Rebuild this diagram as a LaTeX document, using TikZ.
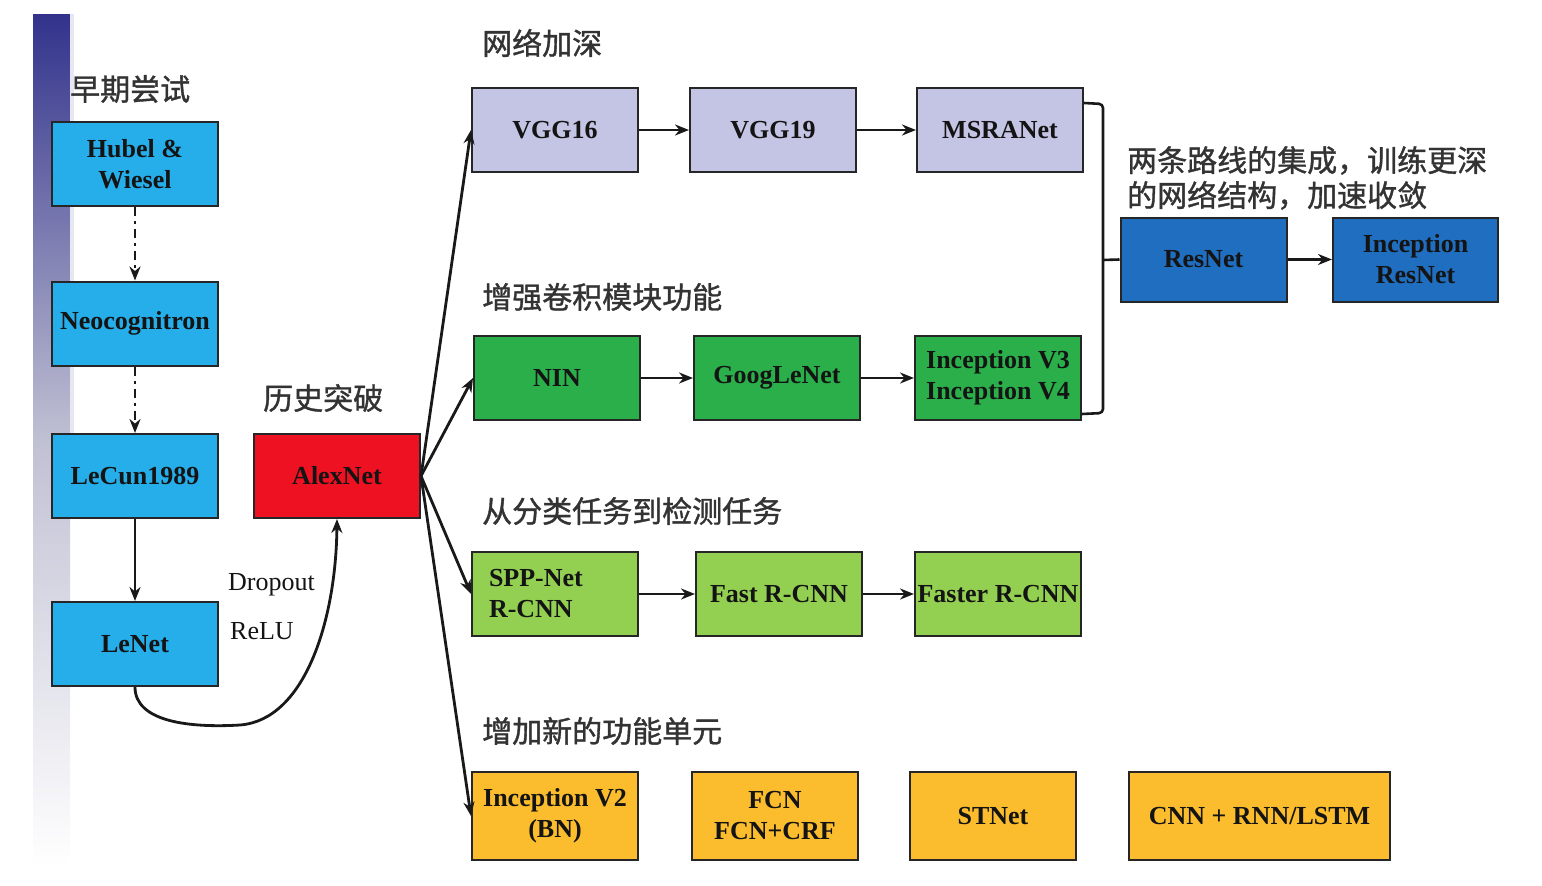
\documentclass[tikz,border=0pt]{standalone}
\usepackage{fontspec}
\setmainfont{Liberation Serif}
\newfontfamily\cjk[FakeBold=1.2]{Noto Sans CJK SC}
\usetikzlibrary{arrows.meta,calc}
\definecolor{cyanbox}{HTML}{25AEEA}
\definecolor{redbox}{HTML}{EE1122}
\definecolor{lavbox}{HTML}{C4C4E4}
\definecolor{greenbox}{HTML}{2BAF4A}
\definecolor{lgreenbox}{HTML}{93D052}
\definecolor{orangebox}{HTML}{FBBD2D}
\definecolor{bluebox}{HTML}{1F6EC0}
\definecolor{navy}{HTML}{32328C}
\definecolor{labelgray}{HTML}{333333}
\definecolor{textdark}{HTML}{141414}
\tikzset{
  x=1pt, y=-1pt,
  box/.style={draw=black!85, line width=2pt, minimum width=166pt, minimum height=84pt,
    inner sep=2pt, align=center, text=textdark,
    font=\fontsize{26}{31}\selectfont\bfseries},
  sect/.style={anchor=west, text=labelgray, inner sep=0pt,
    font=\cjk\fontsize{30}{35}\selectfont},
  arr/.style={line width=2.8pt, draw=black!90, -{Stealth[length=14pt,width=11pt]}},
  dashdot/.style={line width=2.8pt, draw=black!90, dash pattern=on 9pt off 5pt on 3pt off 5pt,
    -{Stealth[length=14pt,width=11pt]}},
  plainline/.style={line width=2.6pt, draw=black!90}
}
\begin{document}
\begin{tikzpicture}
\useasboundingbox (0,0) rectangle (1542,886);
% left decorative bar
\shade[top color=navy, bottom color=white, middle color=navy!25!white!85!gray] (33,14) rectangle (70,866);
\fill[navy!12] (70,14) rectangle (74,500);

% section labels
\node[sect] (l1) at (70,89) {早期尝试};
\node[sect] (l2) at (482,43) {网络加深};
\node[sect] (l3) at (482,297) {增强卷积模块功能};
\node[sect] (l4) at (263,398) {历史突破};
\node[sect] (l5) at (482,511) {从分类任务到检测任务};
\node[sect] (l6) at (482,731) {增加新的功能单元};
\node[sect, align=left] (l7) at (1127,178) {两条路线的集成，训练更深\\的网络结构，加速收敛};

% early column
\node[box, fill=cyanbox] (hubel) at (135,164) {Hubel \&\\Wiesel};
\node[box, fill=cyanbox] (neo) at (135,323.5) {Neocognitron};
\node[box, fill=cyanbox] (lecun) at (135,476) {LeCun1989};
\node[box, fill=cyanbox] (lenet) at (135,644) {LeNet};
\node[box, fill=redbox] (alex) at (337,476) {AlexNet};

% row 1
\node[box, fill=lavbox] (vgg16) at (555,130) {VGG16};
\node[box, fill=lavbox] (vgg19) at (773,130) {VGG19};
\node[box, fill=lavbox] (msra) at (1000,130) {MSRANet};
% row 2
\node[box, fill=greenbox] (nin) at (557,378) {NIN};
\node[box, fill=greenbox] (goog) at (777,378) {GoogLeNet};
\node[box, fill=greenbox] (incv3) at (998,378) {Inception V3\\Inception V4};
% row 3
\node[box, fill=lgreenbox, text width=132pt, align=left] (spp) at (555,594) {SPP-Net\\R-CNN};
\node[box, fill=lgreenbox] (fast) at (779,594) {Fast R-CNN};
\node[box, fill=lgreenbox] (faster) at (998,594) {Faster R-CNN};
% row 4
\node[box, fill=orangebox, minimum height=88pt] (incv2) at (555,816) {Inception V2\\(BN)};
\node[box, fill=orangebox, minimum height=88pt] (fcn) at (775,816) {FCN\\FCN+CRF};
\node[box, fill=orangebox, minimum height=88pt] (stnet) at (993,816) {STNet};
\node[box, fill=orangebox, minimum height=88pt, minimum width=261pt] (cnnrnn) at (1259.5,816) {CNN + RNN/LSTM};
% resnet
\node[box, fill=bluebox] (resnet) at (1203.5,259.5) {ResNet};
\node[box, fill=bluebox, minimum width=165pt] (incres) at (1415.5,259.5) {Inception\\ResNet};

% labels on curve
\node[anchor=west, inner sep=0pt, text=textdark, font=\fontsize{26}{30}\selectfont] (drop) at (228,585) {Dropout};
\node[anchor=west, inner sep=0pt, text=textdark, font=\fontsize{26}{30}\selectfont] (relu) at (230,631) {ReLU};

% early connectors
\draw[dashdot] (hubel) -- (neo);
\draw[dashdot] (neo) -- (lecun);
\draw[arr] (lecun) -- (lenet);
\draw[arr] (lenet.south) .. controls (135,722) and (190,728) .. (240,725)
  .. controls (305,720) and (336,620) .. (alex.south);

% alexnet fan
\draw[arr] (alex.east) -- (vgg16.west);
\draw[arr] (alex.east) -- (nin.west);
\draw[arr] (alex.east) -- (spp.west);
\draw[arr] (alex.east) -- (incv2.west);

% rows
\draw[arr] (vgg16) -- (vgg19);
\draw[arr] (vgg19) -- (msra);
\draw[arr] (nin) -- (goog);
\draw[arr] (goog) -- (incv3);
\draw[arr] (spp) -- (fast);
\draw[arr] (fast) -- (faster);
\draw[arr] (resnet) -- (incres);

% bracket
\coordinate (bt) at (1103,104);
\coordinate (bb) at (1103,413);
\draw[plainline, rounded corners=4pt] ($(msra.north east)+(0,16)$) -- (bt) -- (bb) -- ($(incv3.south east)+(0,-7)$);
\draw[plainline] (1103,260) -- (resnet.west);
\end{tikzpicture}
\end{document}
